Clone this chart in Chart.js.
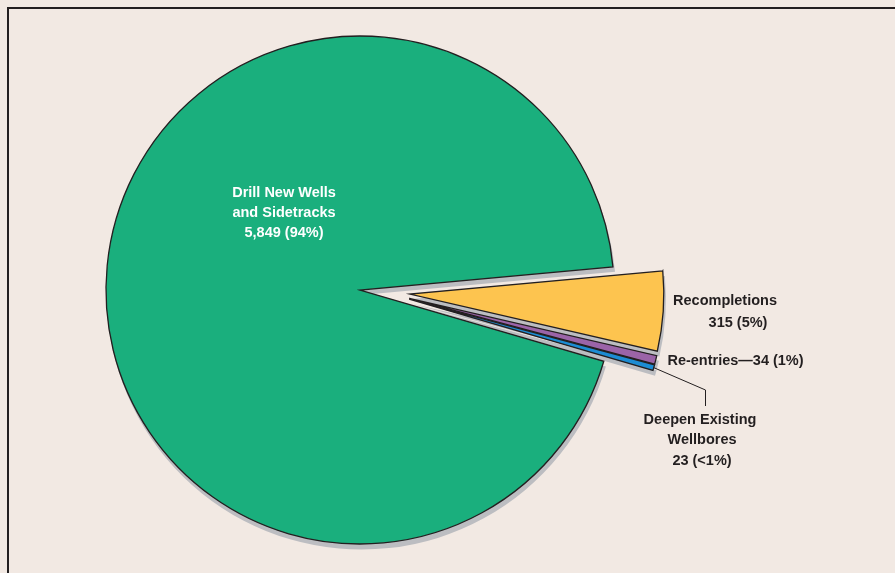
<!DOCTYPE html>
<html lang="en">
<head>
<meta charset="UTF-8">
<title>Well Permits by Type</title>
<script src="https://cdn.jsdelivr.net/npm/chart.js"></script>
<style>
    html, body { margin: 0; padding: 0; background: #F2E9E3; }
    #wrap { position: relative; width: 895px; height: 573px; overflow: hidden; }
    #frame {
        position: absolute; left: 7px; top: 7px; width: 900px; height: 580px;
        border-left: 2px solid #231F20; border-top: 2px solid #231F20;
    }
    #pieChart { position: absolute; left: 0; top: 0; }
</style>
</head>
<body>
<div id="wrap">
    <div id="frame"></div>
    <canvas id="pieChart" width="895" height="573"></canvas>
</div>
<script>
    // 各類井作業數量
    const categories = ['Drill New Wells and Sidetracks', 'Recompletions', 'Re-entries', 'Deepen Existing Wellbores'];
    const wellCounts = [5849, 315, 34, 23];
    const sliceColors = ['#1AAF7D', '#FDC44F', '#9B64A8', '#1C8CD3'];
    // 拉出的扇形 (Recompletions, Re-entries, Deepen)
    const explodedSlices = [1, 2, 3];
    const explodeDistance = 50;

    const total = wellCounts.reduce((a, b) => a + b, 0);

    // 數值文字: 5,849 (94%)
    function valueText(i) {
        const share = wellCounts[i] / total;
        const pct = share < 0.005 ? '<1%' : Math.round(share * 100) + '%';
        return wellCounts[i].toLocaleString('en-US') + ' (' + pct + ')';
    }

    // 標籤位置 (相對於圓心)
    const labelLines = [
        { text: 'Drill New Wells', dx: -76, dy: -97, color: '#FFFFFF' },
        { text: 'and Sidetracks', dx: -76, dy: -77, color: '#FFFFFF' },
        { text: valueText(0), dx: -76, dy: -57, color: '#FFFFFF' },
        { text: 'Recompletions', dx: 365, dy: 11, color: '#231F20' },
        { text: valueText(1), dx: 378, dy: 33, color: '#231F20' },
        { text: 'Re-entries\u2014' + valueText(2), dx: 375.5, dy: 71, color: '#231F20' },
        { text: 'Deepen Existing', dx: 340, dy: 130, color: '#231F20' },
        { text: 'Wellbores', dx: 342, dy: 150, color: '#231F20' },
        { text: valueText(3), dx: 342, dy: 171, color: '#231F20' }
    ];
    // Deepen 標籤的引線轉折點
    const leaderElbow = { dx: 345.5, dy: 100, endDy: 116 };

    let pieCenter = { x: 0, y: 0 };

    // 把小扇形往外拉, 方向取自身中線與整組中線的平均
    const explodePlugin = {
        id: 'explode',
        afterDatasetsUpdate(chart) {
            const arcs = chart.getDatasetMeta(0).data;
            pieCenter = { x: arcs[0].x, y: arcs[0].y };
            const first = arcs[explodedSlices[0]];
            const last = arcs[explodedSlices[explodedSlices.length - 1]];
            const groupMid = (first.startAngle + last.endAngle) / 2;
            explodedSlices.forEach(i => {
                const ownMid = (arcs[i].startAngle + arcs[i].endAngle) / 2;
                const dir = (ownMid + groupMid) / 2;
                arcs[i].x += Math.cos(dir) * explodeDistance;
                arcs[i].y += Math.sin(dir) * explodeDistance;
            });
        }
    };

    // 陰影: 先畫一層灰色扇形
    const shadowPlugin = {
        id: 'pieShadow',
        beforeDatasetsDraw(chart) {
            const ctx = chart.ctx;
            ctx.save();
            ctx.fillStyle = '#BCBDC1';
            chart.getDatasetMeta(0).data.forEach(arc => {
                const sx = arc.x + 1.5, sy = arc.y + 5;
                ctx.beginPath();
                ctx.moveTo(sx, sy);
                ctx.arc(sx, sy, arc.outerRadius + 0.6, arc.startAngle, arc.endAngle);
                ctx.closePath();
                ctx.fill();
            });
            ctx.restore();
        }
    };

    // 標籤與引線
    const labelPlugin = {
        id: 'sliceLabels',
        afterDatasetsDraw(chart) {
            const ctx = chart.ctx;
            const arcs = chart.getDatasetMeta(0).data;
            ctx.save();

            const deepen = arcs[3];
            const a = (deepen.startAngle + deepen.endAngle) / 2;
            ctx.strokeStyle = '#231F20';
            ctx.lineWidth = 1;
            ctx.beginPath();
            ctx.moveTo(deepen.x + Math.cos(a) * deepen.outerRadius, deepen.y + Math.sin(a) * deepen.outerRadius);
            ctx.lineTo(pieCenter.x + leaderElbow.dx, pieCenter.y + leaderElbow.dy);
            ctx.lineTo(pieCenter.x + leaderElbow.dx, pieCenter.y + leaderElbow.endDy);
            ctx.stroke();

            ctx.font = 'bold 14.5px "Liberation Sans", Arial, sans-serif';
            ctx.textAlign = 'center';
            ctx.textBaseline = 'middle';
            labelLines.forEach(l => {
                ctx.fillStyle = l.color;
                ctx.fillText(l.text, pieCenter.x + l.dx, pieCenter.y + l.dy);
            });
            ctx.restore();
        }
    };

    const ctx = document.getElementById('pieChart').getContext('2d');
    new Chart(ctx, {
        type: 'pie',
        data: {
            labels: categories,
            datasets: [{
                data: wellCounts,
                backgroundColor: sliceColors,
                borderColor: '#231F20',
                borderWidth: 1.3,
                borderJoinStyle: 'miter',
                radius: 254
            }]
        },
        options: {
            responsive: false,
            animation: false,
            events: [],
            rotation: 106.3,
            layout: { padding: { left: 0, right: 175, top: 7, bottom: 0 } },
            plugins: {
                legend: { display: false },
                tooltip: { enabled: false }
            }
        },
        plugins: [explodePlugin, shadowPlugin, labelPlugin]
    });
</script>
</body>
</html>
